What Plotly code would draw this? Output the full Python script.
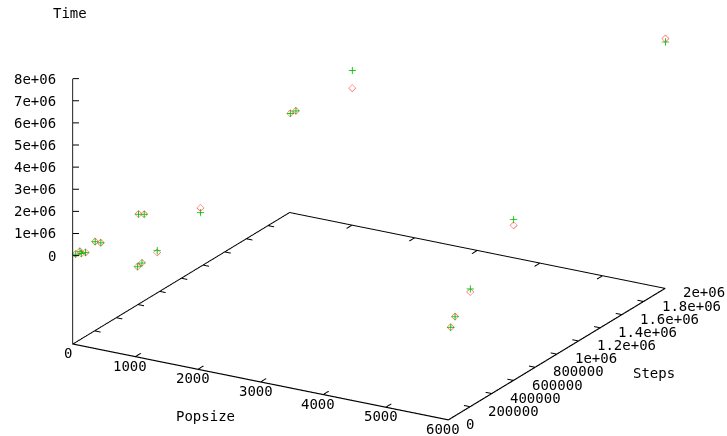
import plotly.graph_objects as go

# Benchmark timings: population size x number of steps -> run time
popsize = [10, 10, 10, 10, 10,
           100, 100, 100, 100, 100,
           1000, 1000, 1000, 1000, 1000,
           6000, 6000, 6000, 6000, 6000]
steps = [20000, 60000, 200000, 600000, 2000000] * 4
time_measured = [20000, 30000, 50000, 100000, 490000,
                 100000, 30000, 50000, 150000, 660000,
                 20000, 70000, 130000, 950000, 2200000,
                 140000, 500000, 1200000, 3020000, 7300000]
time_model = [20000, 30000, 50000, 100000, 490000,
              100000, 30000, 50000, 150000, 660000,
              20000, 70000, 210000, 740000, 3000000,
              140000, 500000, 1340000, 3290000, 7150000]

pop_ticks = [0, 1000, 2000, 3000, 4000, 5000, 6000]
step_ticks = [0, 200000, 400000, 600000, 800000, 1000000,
              1200000, 1400000, 1600000, 1800000, 2000000]
step_text = ["0", "200000", "400000", "600000", "800000", "1e+06",
             "1.2e+06", "1.4e+06", "1.6e+06", "1.8e+06", "2e+06"]
time_ticks = [0, 1e6, 2e6, 3e6, 4e6, 5e6, 6e6, 7e6, 8e6]
time_text = ["0", "1e+06", "2e+06", "3e+06", "4e+06",
             "5e+06", "6e+06", "7e+06", "8e+06"]

pop_range = [0, 6000]
step_range = [0, 2000000]
time_range = [-4e6, 8e6]   # base plane sits half a z-range below zero

mono = "DejaVu Sans Mono"
label_font = dict(family=mono, size=14, color="black")

fig = go.Figure()

# base plane border, pulled a hair inside the axis box so it is not clipped
base = time_range[0]
xspan = pop_range[1] - pop_range[0]
yspan = step_range[1] - step_range[0]
ex, ey, ez = 5e-4 * xspan, 5e-4 * yspan, 5e-4 * (time_range[1] - time_range[0])
x0, x1 = pop_range[0] + ex, pop_range[1] - ex
y0, y1 = step_range[0] + ey, step_range[1] - ey
zb = base + ez
fig.add_trace(go.Scatter3d(
    x=[x0, x1, x1, x0, x0], y=[y0, y0, y1, y1, y0], z=[zb] * 5,
    mode="lines", line=dict(color="black", width=2),
    hoverinfo="skip", showlegend=False))

# tic marks on all four base edges and on the vertical time axis
tx, ty, tz = [], [], []
dy = 0.025 * yspan
dx = 0.016 * xspan
for v in pop_ticks[1:-1]:
    tx += [v, v, None, v, v, None]
    ty += [y0, y0 + dy, None, y1, y1 - dy, None]
    tz += [zb, zb, None, zb, zb, None]
for v in step_ticks[1:-1]:
    tx += [x0, x0 + dx, None, x1, x1 - dx, None]
    ty += [v, v, None, v, v, None]
    tz += [zb, zb, None, zb, zb, None]
for v in time_ticks:
    tx += [x0, x0 + 0.0119 * xspan, None]
    ty += [y0, y0 + 0.0069 * yspan, None]
    tz += [v, v, None]
fig.add_trace(go.Scatter3d(
    x=tx, y=ty, z=tz, mode="lines", connectgaps=False,
    line=dict(color="black", width=2), hoverinfo="skip", showlegend=False))

fig.add_trace(go.Scatter3d(
    x=popsize, y=steps, z=time_measured, mode="markers",
    marker=dict(symbol="diamond-open", size=2.6, color="#ff5a5a", opacity=1),
    hoverinfo="skip", showlegend=False))
fig.add_trace(go.Scatter3d(
    x=popsize, y=steps, z=time_model, mode="markers",
    marker=dict(symbol="cross", size=4, color="#00c400", opacity=1),
    hoverinfo="skip", showlegend=False))

axis_common = dict(showbackground=False, showgrid=False, zeroline=False,
                   showspikes=False, showline=True, linecolor="black",
                   linewidth=2, ticks="", showticklabels=False,
                   title=dict(text=""))

# tick labels placed next to their tick, gnuplot style
scene_ann = []
for v, t in zip(time_ticks, time_text):
    scene_ann.append(dict(x=pop_range[0], y=step_range[0], z=v, text=t,
                          xanchor="right", yanchor="middle", xshift=-15))
for v in pop_ticks:
    scene_ann.append(dict(x=v, y=step_range[0], z=base, text=str(v),
                          xanchor="center", yanchor="middle",
                          xshift=-5, yshift=-9))
for v, t in zip(step_ticks, step_text):
    scene_ann.append(dict(x=pop_range[1], y=v, z=base, text=t,
                          xanchor="left", yanchor="middle",
                          xshift=16, yshift=-4))
for a in scene_ann:
    a.update(showarrow=False, font=label_font)

# view direction and look-at point of the orthographic camera
view = (0.468 * 6, -0.811 * 6, 0.35 * 6)
look = (0.0058, -0.0605, -0.148)

fig.update_layout(
    width=727, height=436,
    margin=dict(l=0, r=0, t=0, b=0),
    paper_bgcolor="white",
    hovermode=False,
    scene=dict(
        domain=dict(x=[0, 1], y=[0, 1]),
        xaxis=dict(range=pop_range, **axis_common),
        yaxis=dict(range=step_range, **axis_common),
        zaxis=dict(range=time_range, **axis_common),
        aspectmode="manual",
        aspectratio=dict(x=1.99, y=1.99, z=1.30),
        camera=dict(projection=dict(type="orthographic"),
                    eye=dict(x=look[0] + view[0], y=look[1] + view[1],
                             z=look[2] + view[2]),
                    up=dict(x=0, y=0, z=1),
                    center=dict(x=look[0], y=look[1], z=look[2])),
        annotations=scene_ann,
        hovermode=False,
        bgcolor="white",
    ),
)
for txt, px, py in [("Time", 70, 13), ("Popsize", 205, 416), ("Steps", 654, 373)]:
    fig.add_annotation(text=txt, x=px / 727, y=1 - py / 436, xref="paper",
                       yref="paper", xanchor="center", yanchor="middle",
                       showarrow=False, font=label_font)

fig.write_html("out.html", config=dict(displayModeBar=False))
